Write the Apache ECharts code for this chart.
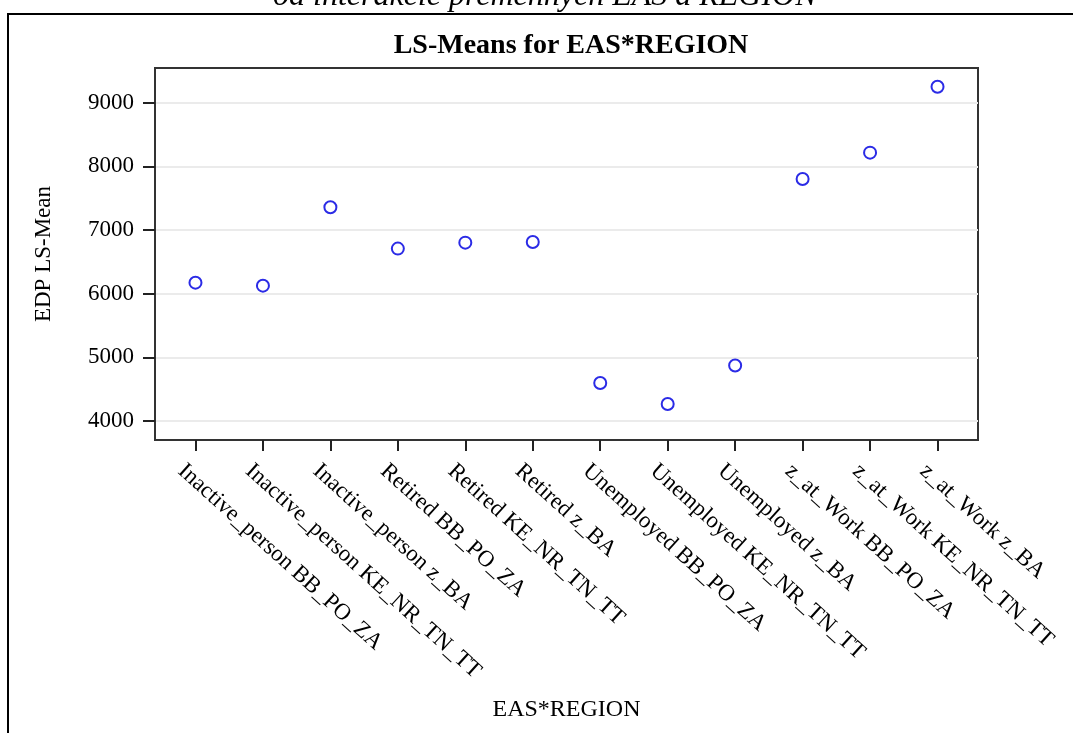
<!DOCTYPE html>
<html>
<head>
<meta charset="utf-8">
<script src="https://cdn.jsdelivr.net/npm/echarts@6/dist/echarts.min.js"></script>
<style>
html, body { margin: 0; padding: 0; background: #fff; }
#chart { width: 1073px; height: 733px; }
</style>
</head>
<body>
<div id="chart"></div>
<script>
// categories of EAS*REGION and their LS-means
var categories = [
    'Inactive_person BB_PO_ZA',
    'Inactive_person KE_NR_TN_TT',
    'Inactive_person z_BA',
    'Retired BB_PO_ZA',
    'Retired KE_NR_TN_TT',
    'Retired z_BA',
    'Unemployed BB_PO_ZA',
    'Unemployed KE_NR_TN_TT',
    'Unemployed z_BA',
    'z_at_Work BB_PO_ZA',
    'z_at_Work KE_NR_TN_TT',
    'z_at_Work z_BA'
];
var lsMeans = [6172, 6125, 7357, 6707, 6801, 6812, 4595, 4265, 4871, 7802, 8215, 9251];
var yTicks = [4000, 5000, 6000, 7000, 8000, 9000];

var serif = '"Liberation Serif", "DejaVu Serif", serif';
var catIdx = categories.map(function (c, i) { return i; });

var dom = document.getElementById('chart');
var myChart = echarts.init(dom);

var option = {
    backgroundColor: '#fff',
    animation: false,
    title: {
        text: 'LS-Means for EAS*REGION',
        left: 566,
        top: 27,
        textAlign: 'center',
        textStyle: {
            fontFamily: serif,
            fontSize: 28,
            fontWeight: 'bold',
            color: '#000'
        }
    },
    graphic: [
        {
            type: 'text',
            left: 273,
            top: -19,
            style: {
                text: 'od interakcie premenných EAS a REGION',
                font: 'italic 32px ' + serif,
                fill: '#000'
            }
        },
        {
            type: 'rect',
            shape: { x: 8, y: 14, width: 1200, height: 900 },
            style: { fill: 'none', stroke: '#000', lineWidth: 2 }
        }
    ],
    grid: {
        left: 155,
        right: 95,
        top: 68,
        bottom: 293,
        show: true,
        borderColor: '#333',
        borderWidth: 2,
        backgroundColor: '#fff'
    },
    xAxis: {
        type: 'value',
        min: -0.6,
        max: 11.6,
        name: 'EAS*REGION',
        nameLocation: 'middle',
        nameGap: 258,
        nameTextStyle: { fontFamily: serif, fontSize: 24, color: '#000' },
        axisLine: { onZero: false, lineStyle: { color: '#333', width: 2 } },
        axisTick: { show: true, length: 11, customValues: catIdx, lineStyle: { color: '#222', width: 2 } },
        axisLabel: {
            customValues: catIdx,
            rotate: -42,
            margin: 12,
            verticalAlign: 'top',
            padding: [10, 0, 0, 0],
            fontFamily: serif,
            fontSize: 23,
            color: '#000',
            formatter: function (v) { return categories[Math.round(v)]; }
        },
        splitLine: { show: false }
    },
    yAxis: {
        type: 'value',
        min: 3700,
        max: 9545,
        name: 'EDP LS-Mean',
        nameLocation: 'middle',
        nameGap: 100,
        nameTextStyle: { fontFamily: serif, fontSize: 23, color: '#000' },
        axisLine: { show: true, onZero: false, lineStyle: { color: '#333', width: 2 } },
        axisTick: { show: true, length: 12, customValues: yTicks, lineStyle: { color: '#222', width: 2 } },
        axisLabel: {
            customValues: yTicks,
            margin: 21,
            fontFamily: serif,
            fontSize: 23,
            color: '#000',
            formatter: function (v) { return String(v); }
        },
        splitLine: { show: true, lineStyle: { color: '#ebebeb', width: 2 } }
    },
    series: [
        {
            name: 'LS-Mean',
            type: 'scatter',
            symbol: 'emptyCircle',
            symbolSize: 12,
            itemStyle: { color: '#2b2be6', borderColor: '#2b2be6', borderWidth: 2.2, opacity: 1 },
            data: lsMeans.map(function (v, i) { return [i, v]; })
        }
    ]
};

myChart.setOption(option);
</script>
</body>
</html>
